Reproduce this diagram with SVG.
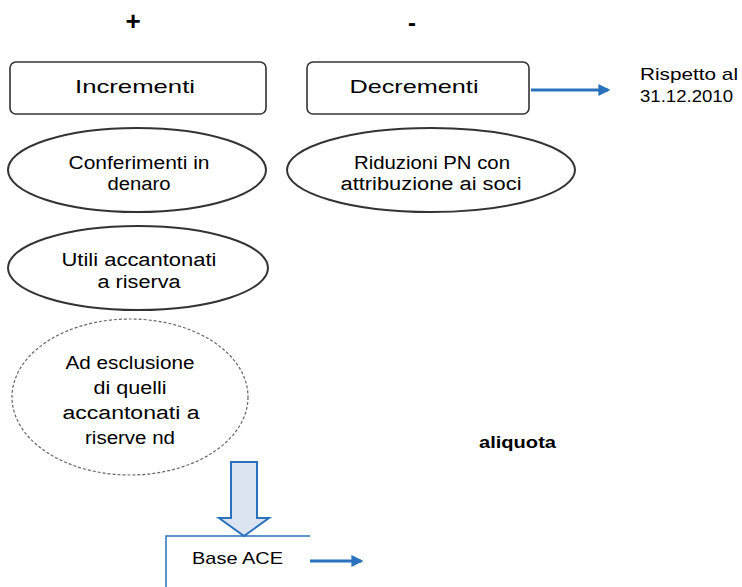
<svg xmlns="http://www.w3.org/2000/svg" width="742" height="587" viewBox="0 0 742 587">
<defs>
<style>
text{font-family:"Liberation Sans",Arial,sans-serif;fill:#000;}
.t{font-size:18px;text-anchor:middle;}
.box{fill:#fff;stroke:#333;stroke-width:1.6;}
.ell{fill:#fff;stroke:#333;stroke-width:2;}
.dash{fill:#fff;stroke:#666;stroke-width:1.2;stroke-dasharray:3 2;}
.conn{stroke:#2a72be;stroke-width:3;fill:none;}
</style>
<marker id="ah" viewBox="0 0 10 10" refX="8" refY="5" markerWidth="4" markerHeight="4" orient="auto" markerUnits="strokeWidth">
<path d="M0,0 L10,5 L0,10 z" fill="#2a72be"/>
</marker>
</defs>
<rect width="742" height="587" fill="#fff"/>
<text x="133" y="30" style="font-size:26px;font-weight:bold;text-anchor:middle">+</text>
<text x="412" y="31" style="font-size:24px;font-weight:bold;text-anchor:middle">-</text>
<g id="incrementi"><rect class="box" x="10" y="62" width="256" height="52" rx="6"/><text class="t" x="135" y="93" textLength="120" lengthAdjust="spacingAndGlyphs" style="font-size:19px">Incrementi</text></g>
<g id="decrementi"><rect class="box" x="307" y="62" width="222" height="52" rx="6"/><text class="t" x="414" y="93" textLength="129" lengthAdjust="spacingAndGlyphs" style="font-size:19px">Decrementi</text></g>
<g id="rispetto"><text x="640" y="80" textLength="98" lengthAdjust="spacingAndGlyphs" style="font-size:17px">Rispetto al</text><text x="640" y="102" textLength="93" lengthAdjust="spacingAndGlyphs" style="font-size:17px">31.12.2010</text></g>
<g id="conferimenti"><ellipse class="ell" cx="137" cy="170" rx="129" ry="42"/><text class="t" x="139" y="169" textLength="141" lengthAdjust="spacingAndGlyphs">Conferimenti in</text><text class="t" x="139" y="190" textLength="63" lengthAdjust="spacingAndGlyphs">denaro</text></g>
<g id="riduzioni"><ellipse class="ell" cx="431" cy="170" rx="144" ry="42"/><text class="t" x="432" y="169" textLength="156" lengthAdjust="spacingAndGlyphs">Riduzioni PN con</text><text class="t" x="431" y="190" textLength="181" lengthAdjust="spacingAndGlyphs">attribuzione ai soci</text></g>
<g id="utili"><ellipse class="ell" cx="138" cy="268" rx="130" ry="42"/><text class="t" x="139" y="266" textLength="155" lengthAdjust="spacingAndGlyphs">Utili accantonati</text><text class="t" x="139" y="288" textLength="83" lengthAdjust="spacingAndGlyphs">a riserva</text></g>
<g id="esclusione"><ellipse class="dash" cx="130" cy="397" rx="118" ry="78"/><text class="t" x="130" y="369" textLength="129" lengthAdjust="spacingAndGlyphs">Ad esclusione</text><text class="t" x="130" y="394" textLength="73" lengthAdjust="spacingAndGlyphs">di quelli</text><text class="t" x="131" y="419" textLength="137" lengthAdjust="spacingAndGlyphs">accantonati a</text><text class="t" x="130" y="444" textLength="90" lengthAdjust="spacingAndGlyphs">riserve nd</text></g>
<g id="aliquota"><text x="479" y="448" textLength="77" lengthAdjust="spacingAndGlyphs" style="font-size:17px;font-weight:bold">aliquota</text></g>
<g id="base-ace"><path d="M166,587 V536 H310" fill="none" stroke="#2a72be" stroke-width="1.5"/><text x="192" y="564" textLength="91" lengthAdjust="spacingAndGlyphs" style="font-size:17px">Base ACE</text></g>
<g id="connectors">
<line class="conn" x1="531" y1="90" x2="608" y2="90" marker-end="url(#ah)"/>
<line class="conn" x1="310" y1="561" x2="361" y2="561" marker-end="url(#ah)"/>
<path d="M231,462 H257 V518 H269 L244,536 L219,518 H231 Z" fill="#dbe4f0" stroke="#2a72be" stroke-width="2"/>
</g>
</svg>
